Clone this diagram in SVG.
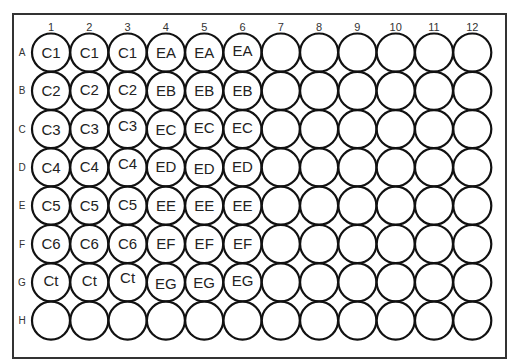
<svg xmlns="http://www.w3.org/2000/svg" width="511" height="361" viewBox="0 0 511 361">
<style>
.w{fill:#fff;stroke:#111;stroke-width:2.2}
.t{font-family:"Liberation Sans",Arial,sans-serif;font-size:15px;fill:#222;text-anchor:middle}
.c{font-family:"Liberation Sans",Arial,sans-serif;font-size:11px;fill:#333;text-anchor:middle}
.r{font-family:"Liberation Sans",Arial,sans-serif;font-size:10px;fill:#333;text-anchor:middle}
</style>
<defs><circle id="well" class="w" r="19"/></defs>
<rect x="0" y="0" width="511" height="361" fill="#fff"/>
<rect id="plate" x="13" y="14" width="493" height="344" fill="#fff" stroke="#333" stroke-width="2"/>
<g id="col-labels">
<text class="c" x="51" y="31">1</text><text class="c" x="89.3" y="31">2</text><text class="c" x="127.6" y="31">3</text><text class="c" x="165.9" y="31">4</text><text class="c" x="204.2" y="31">5</text><text class="c" x="242.5" y="31">6</text><text class="c" x="280.8" y="31">7</text><text class="c" x="319.1" y="31">8</text><text class="c" x="357.4" y="31">9</text><text class="c" x="395.7" y="31">10</text><text class="c" x="434" y="31">11</text><text class="c" x="472.3" y="31">12</text>
</g>
<g id="row-labels">
<text class="r" x="22" y="56">A</text><text class="r" x="22" y="94.3">B</text><text class="r" x="22" y="132.6">C</text><text class="r" x="22" y="170.9">D</text><text class="r" x="22" y="209.2">E</text><text class="r" x="22" y="247.5">F</text><text class="r" x="22" y="285.8">G</text><text class="r" x="22" y="324.1">H</text>
</g>
<g id="wells">
<g id="A1" transform="translate(51,52.5)"><use href="#well"/><text class="t" y="5.5">C1</text></g>
<g id="A2" transform="translate(89.3,52.5)"><use href="#well"/><text class="t" y="5.5">C1</text></g>
<g id="A3" transform="translate(127.6,52.5)"><use href="#well"/><text class="t" y="5">C1</text></g>
<g id="A4" transform="translate(165.9,52.5)"><use href="#well"/><text class="t" y="5.5">EA</text></g>
<g id="A5" transform="translate(204.2,52.5)"><use href="#well"/><text class="t" y="5.5">EA</text></g>
<g id="A6" transform="translate(242.5,52.5)"><use href="#well"/><text class="t" y="3">EA</text></g>
<g id="A7" transform="translate(280.8,52.5)"><use href="#well"/></g>
<g id="A8" transform="translate(319.1,52.5)"><use href="#well"/></g>
<g id="A9" transform="translate(357.4,52.5)"><use href="#well"/></g>
<g id="A10" transform="translate(395.7,52.5)"><use href="#well"/></g>
<g id="A11" transform="translate(434,52.5)"><use href="#well"/></g>
<g id="A12" transform="translate(472.3,52.5)"><use href="#well"/></g>

<g id="B1" transform="translate(51,90.8)"><use href="#well"/><text class="t" y="5.5">C2</text></g>
<g id="B2" transform="translate(89.3,90.8)"><use href="#well"/><text class="t" y="4">C2</text></g>
<g id="B3" transform="translate(127.6,90.8)"><use href="#well"/><text class="t" y="4">C2</text></g>
<g id="B4" transform="translate(165.9,90.8)"><use href="#well"/><text class="t" y="5.5">EB</text></g>
<g id="B5" transform="translate(204.2,90.8)"><use href="#well"/><text class="t" y="5.5">EB</text></g>
<g id="B6" transform="translate(242.5,90.8)"><use href="#well"/><text class="t" y="5.5">EB</text></g>
<g id="B7" transform="translate(280.8,90.8)"><use href="#well"/></g>
<g id="B8" transform="translate(319.1,90.8)"><use href="#well"/></g>
<g id="B9" transform="translate(357.4,90.8)"><use href="#well"/></g>
<g id="B10" transform="translate(395.7,90.8)"><use href="#well"/></g>
<g id="B11" transform="translate(434,90.8)"><use href="#well"/></g>
<g id="B12" transform="translate(472.3,90.8)"><use href="#well"/></g>

<g id="C1" transform="translate(51,129.1)"><use href="#well"/><text class="t" y="5.5">C3</text></g>
<g id="C2" transform="translate(89.3,129.1)"><use href="#well"/><text class="t" y="4.5">C3</text></g>
<g id="C3" transform="translate(127.6,129.1)"><use href="#well"/><text class="t" y="2">C3</text></g>
<g id="C4" transform="translate(165.9,129.1)"><use href="#well"/><text class="t" y="5.5">EC</text></g>
<g id="C5" transform="translate(204.2,129.1)"><use href="#well"/><text class="t" y="4">EC</text></g>
<g id="C6" transform="translate(242.5,129.1)"><use href="#well"/><text class="t" y="4">EC</text></g>
<g id="C7" transform="translate(280.8,129.1)"><use href="#well"/></g>
<g id="C8" transform="translate(319.1,129.1)"><use href="#well"/></g>
<g id="C9" transform="translate(357.4,129.1)"><use href="#well"/></g>
<g id="C10" transform="translate(395.7,129.1)"><use href="#well"/></g>
<g id="C11" transform="translate(434,129.1)"><use href="#well"/></g>
<g id="C12" transform="translate(472.3,129.1)"><use href="#well"/></g>

<g id="D1" transform="translate(51,167.4)"><use href="#well"/><text class="t" y="5.5">C4</text></g>
<g id="D2" transform="translate(89.3,167.4)"><use href="#well"/><text class="t" y="4.5">C4</text></g>
<g id="D3" transform="translate(127.6,167.4)"><use href="#well"/><text class="t" y="2">C4</text></g>
<g id="D4" transform="translate(165.9,167.4)"><use href="#well"/><text class="t" y="5">ED</text></g>
<g id="D5" transform="translate(204.2,167.4)"><use href="#well"/><text class="t" y="7">ED</text></g>
<g id="D6" transform="translate(242.5,167.4)"><use href="#well"/><text class="t" y="5">ED</text></g>
<g id="D7" transform="translate(280.8,167.4)"><use href="#well"/></g>
<g id="D8" transform="translate(319.1,167.4)"><use href="#well"/></g>
<g id="D9" transform="translate(357.4,167.4)"><use href="#well"/></g>
<g id="D10" transform="translate(395.7,167.4)"><use href="#well"/></g>
<g id="D11" transform="translate(434,167.4)"><use href="#well"/></g>
<g id="D12" transform="translate(472.3,167.4)"><use href="#well"/></g>

<g id="E1" transform="translate(51,205.7)"><use href="#well"/><text class="t" y="5.5">C5</text></g>
<g id="E2" transform="translate(89.3,205.7)"><use href="#well"/><text class="t" y="5">C5</text></g>
<g id="E3" transform="translate(127.6,205.7)"><use href="#well"/><text class="t" y="4">C5</text></g>
<g id="E4" transform="translate(165.9,205.7)"><use href="#well"/><text class="t" y="5.5">EE</text></g>
<g id="E5" transform="translate(204.2,205.7)"><use href="#well"/><text class="t" y="5.5">EE</text></g>
<g id="E6" transform="translate(242.5,205.7)"><use href="#well"/><text class="t" y="5">EE</text></g>
<g id="E7" transform="translate(280.8,205.7)"><use href="#well"/></g>
<g id="E8" transform="translate(319.1,205.7)"><use href="#well"/></g>
<g id="E9" transform="translate(357.4,205.7)"><use href="#well"/></g>
<g id="E10" transform="translate(395.7,205.7)"><use href="#well"/></g>
<g id="E11" transform="translate(434,205.7)"><use href="#well"/></g>
<g id="E12" transform="translate(472.3,205.7)"><use href="#well"/></g>

<g id="F1" transform="translate(51,244)"><use href="#well"/><text class="t" y="5">C6</text></g>
<g id="F2" transform="translate(89.3,244)"><use href="#well"/><text class="t" y="5">C6</text></g>
<g id="F3" transform="translate(127.6,244)"><use href="#well"/><text class="t" y="5">C6</text></g>
<g id="F4" transform="translate(165.9,244)"><use href="#well"/><text class="t" y="5">EF</text></g>
<g id="F5" transform="translate(204.2,244)"><use href="#well"/><text class="t" y="5">EF</text></g>
<g id="F6" transform="translate(242.5,244)"><use href="#well"/><text class="t" y="5">EF</text></g>
<g id="F7" transform="translate(280.8,244)"><use href="#well"/></g>
<g id="F8" transform="translate(319.1,244)"><use href="#well"/></g>
<g id="F9" transform="translate(357.4,244)"><use href="#well"/></g>
<g id="F10" transform="translate(395.7,244)"><use href="#well"/></g>
<g id="F11" transform="translate(434,244)"><use href="#well"/></g>
<g id="F12" transform="translate(472.3,244)"><use href="#well"/></g>

<g id="G1" transform="translate(51,282.3)"><use href="#well"/><text class="t" y="3.5">Ct</text></g>
<g id="G2" transform="translate(89.3,282.3)"><use href="#well"/><text class="t" y="3.5">Ct</text></g>
<g id="G3" transform="translate(127.6,282.3)"><use href="#well"/><text class="t" y="1">Ct</text></g>
<g id="G4" transform="translate(165.9,282.3)"><use href="#well"/><text class="t" y="6.5">EG</text></g>
<g id="G5" transform="translate(204.2,282.3)"><use href="#well"/><text class="t" y="5.5">EG</text></g>
<g id="G6" transform="translate(242.5,282.3)"><use href="#well"/><text class="t" y="4">EG</text></g>
<g id="G7" transform="translate(280.8,282.3)"><use href="#well"/></g>
<g id="G8" transform="translate(319.1,282.3)"><use href="#well"/></g>
<g id="G9" transform="translate(357.4,282.3)"><use href="#well"/></g>
<g id="G10" transform="translate(395.7,282.3)"><use href="#well"/></g>
<g id="G11" transform="translate(434,282.3)"><use href="#well"/></g>
<g id="G12" transform="translate(472.3,282.3)"><use href="#well"/></g>

<g id="H1" transform="translate(51,320.6)"><use href="#well"/></g>
<g id="H2" transform="translate(89.3,320.6)"><use href="#well"/></g>
<g id="H3" transform="translate(127.6,320.6)"><use href="#well"/></g>
<g id="H4" transform="translate(165.9,320.6)"><use href="#well"/></g>
<g id="H5" transform="translate(204.2,320.6)"><use href="#well"/></g>
<g id="H6" transform="translate(242.5,320.6)"><use href="#well"/></g>
<g id="H7" transform="translate(280.8,320.6)"><use href="#well"/></g>
<g id="H8" transform="translate(319.1,320.6)"><use href="#well"/></g>
<g id="H9" transform="translate(357.4,320.6)"><use href="#well"/></g>
<g id="H10" transform="translate(395.7,320.6)"><use href="#well"/></g>
<g id="H11" transform="translate(434,320.6)"><use href="#well"/></g>
<g id="H12" transform="translate(472.3,320.6)"><use href="#well"/></g>
</g>
<g id="connectors"/>
</svg>
